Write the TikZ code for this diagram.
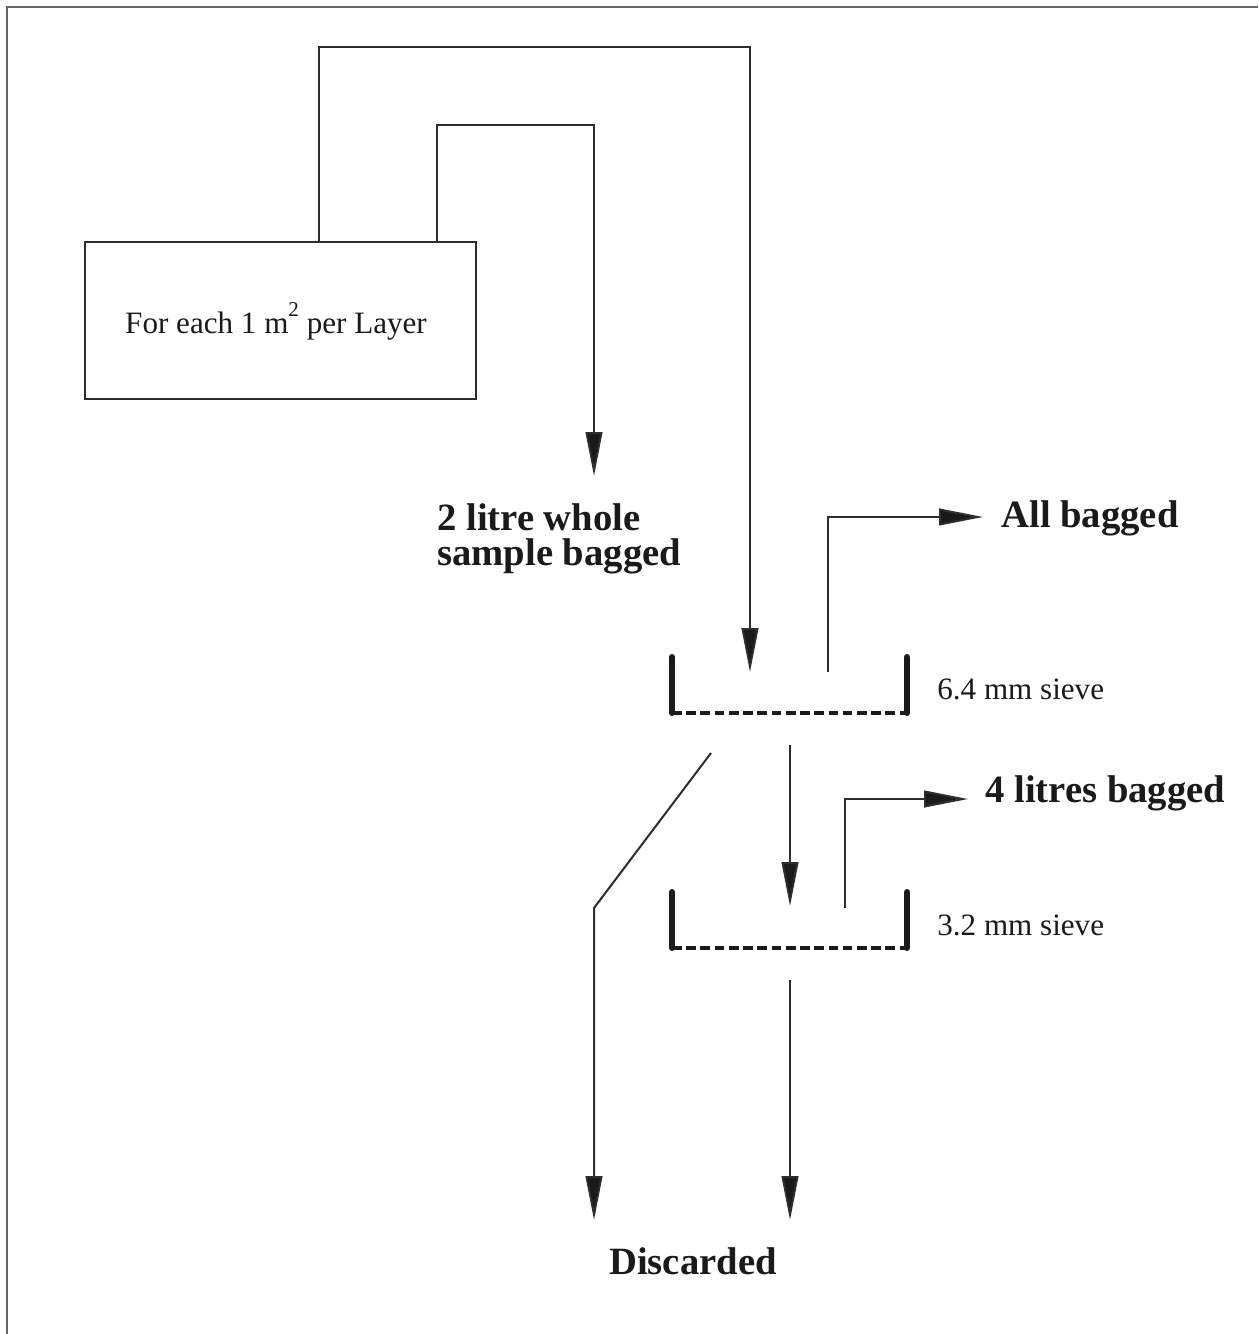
\documentclass[tikz,border=0pt]{standalone}
\usepackage{fontspec}
\setmainfont{Liberation Serif}
\usetikzlibrary{arrows.meta}
\definecolor{linec}{HTML}{2E2E2E}
\definecolor{textc}{HTML}{1A1A1A}
\begin{document}
\begin{tikzpicture}[x=0.02cm,y=-0.02cm,
  conn/.style={draw=linec,line width=1.15pt},
  arr/.style={conn,-{Triangle[length=25pt,width=9.5pt,fill=textc]}},
  bar/.style={draw=textc,line width=3.4pt,line cap=round},
  mesh/.style={draw=textc,line width=2.1pt,dash pattern=on 5.5pt off 2.6pt},
  plain/.style={text=textc,font=\fontsize{17.7}{20}\selectfont,inner sep=0pt},
  boldlbl/.style={text=textc,font=\fontsize{22}{20}\selectfont\bfseries,inner sep=0pt}]
\useasboundingbox (0,0) rectangle (1258,1334);
% frame (top and left visible)
\draw[draw=gray!80!black,line width=1.3pt] (7,1334) -- (7,7) -- (1258,7);
% box
\node[draw=linec,line width=1.15pt,minimum width=391*0.02cm,minimum height=157*0.02cm,inner sep=0pt] (box) at (280.5,320.5) {};
\node[plain,anchor=base] (boxtxt) at (276,334) {For each 1 m\raisebox{0.55em}{\fontsize{12}{12}\selectfont 2} per Layer};
% coordinates
\coordinate (b1) at (319,242);
\coordinate (b2) at (437,242);
\coordinate (tip1) at (750,672);
\coordinate (tip2) at (594,476);
% sieve 1
\coordinate (s1l) at (672,657);
\coordinate (s1r) at (907,657);
\coordinate (s1bl) at (672,713);
\coordinate (s1br) at (907,713);
\draw[mesh] (s1bl) -- (s1br);
\draw[bar] (s1l) -- (s1bl);
\draw[bar] (s1r) -- (s1br);
% sieve 2
\coordinate (s2l) at (672,892);
\coordinate (s2r) at (907,892);
\coordinate (s2bl) at (672,948);
\coordinate (s2br) at (907,948);
\draw[mesh] (s2bl) -- (s2br);
\draw[bar] (s2l) -- (s2bl);
\draw[bar] (s2r) -- (s2br);
% labels
\node[boldlbl,anchor=base west] (whole1) at (437,530) {2 litre whole};
\node[boldlbl,anchor=base west] (whole2) at (437,565) {sample bagged};
\node[boldlbl,anchor=base west] (allb) at (1001,527) {All bagged};
\node[boldlbl,anchor=base west] (four) at (985,802) {4 litres bagged};
\node[boldlbl,anchor=base] (disc) at (693,1274) {Discarded};
\node[plain,anchor=base west] (s1lbl) at (937,699) {6.4 mm sieve};
\node[plain,anchor=base west] (s2lbl) at (937,935) {3.2 mm sieve};
% connectors
\draw[arr] (b1) |- (750,47) -- (tip1);
\draw[arr] (b2) |- (594,125) -- (tip2);
\coordinate (a1s) at (828,672);
\coordinate (a1e) at (983,517);
\draw[arr] (a1s) |- (a1e);
\coordinate (a2s) at (845,908);
\coordinate (a2e) at (968,799);
\draw[arr] (a2s) |- (a2e);
\coordinate (d1s) at (711,753);
\coordinate (d1k) at (594,908);
\coordinate (d1e) at (594,1220);
\draw[arr] (d1s) -- (d1k) -- (d1e);
\coordinate (m1s) at (790,745);
\coordinate (m1e) at (790,906);
\draw[arr] (m1s) -- (m1e);
\coordinate (m2s) at (790,980);
\coordinate (m2e) at (790,1220);
\draw[arr] (m2s) -- (m2e);
\end{tikzpicture}
\end{document}
